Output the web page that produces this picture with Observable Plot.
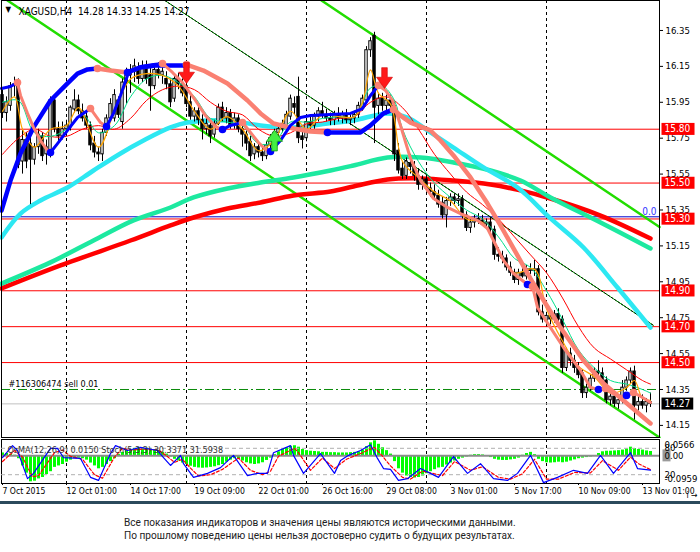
<!DOCTYPE html>
<html><head><meta charset="utf-8">
<script src="https://cdn.jsdelivr.net/npm/d3@7"></script>
<script src="https://cdn.jsdelivr.net/npm/@observablehq/plot@0.6"></script>
<style>
body{margin:0;background:#fff;}
#wrap{position:relative;width:700px;height:552px;overflow:hidden;background:#fff;}
.layer{position:absolute;left:0;}
#band{position:absolute;left:0;top:501px;width:700px;height:3px;background:#2b4a5c;}
#caption{position:absolute;left:124px;top:516px;font:10.1px Roboto,"Open Sans",sans-serif;color:#222;line-height:13px;white-space:nowrap;}
</style></head>
<body><div id="wrap"></div>
<script>
// ---------- DATA ----------
const symbol = "XAGUSD,H4";
// H4 candles, [open, high, low, close], bar index = position
const ohlc = [
[15.99,16.02,15.86,15.89],[15.89,15.98,15.84,15.95],[15.93,16.06,15.90,16.04],[16.04,16.09,15.98,16.05],[16.06,16.08,15.58,15.60],
[15.62,15.80,15.55,15.74],[15.74,15.78,15.58,15.62],[15.72,15.76,15.38,15.63],[15.63,15.72,15.60,15.70],[15.70,15.80,15.66,15.77],
[15.76,15.78,15.62,15.65],[15.66,15.74,15.60,15.70],[15.67,15.98,15.64,15.96],[15.96,15.99,15.78,15.80],[15.80,15.84,15.72,15.76],
[15.76,15.84,15.74,15.80],[15.80,15.85,15.76,15.82],[15.81,15.93,15.79,15.92],[15.91,16.02,15.89,15.96],[15.96,15.99,15.88,15.90],
[15.90,15.94,15.84,15.86],[15.87,15.90,15.80,15.82],[15.82,15.84,15.68,15.71],[15.72,15.76,15.64,15.67],[15.67,15.70,15.62,15.66],
[15.66,15.80,15.62,15.78],[15.78,15.88,15.76,15.86],[15.86,15.97,15.84,15.94],[15.86,16.02,15.84,15.99],[15.96,15.98,15.86,15.88],
[15.84,16.08,15.80,16.06],[16.06,16.14,15.94,16.10],[16.10,16.16,16.00,16.13],[16.12,16.19,16.06,16.15],[16.14,16.17,16.05,16.08],
[16.08,16.18,16.06,16.15],[16.15,16.18,16.05,16.08],[16.10,16.14,15.90,16.04],[16.04,16.16,16.02,16.13],[16.13,16.17,16.08,16.10],
[16.10,16.15,16.05,16.12],[16.08,16.12,16.02,16.05],[16.05,16.08,15.92,15.95],[15.97,16.10,15.95,16.08],[16.08,16.11,16.02,16.05],
[16.05,16.08,15.98,16.00],[16.04,16.06,15.92,15.94],[15.95,15.99,15.85,15.87],[15.87,15.92,15.84,15.90],[15.90,15.93,15.82,15.85],
[15.85,15.88,15.74,15.80],[15.80,15.86,15.77,15.83],[15.82,15.85,15.72,15.76],[15.77,15.85,15.75,15.83],[15.83,15.94,15.82,15.92],
[15.92,15.95,15.84,15.86],[15.86,15.92,15.83,15.89],[15.89,15.91,15.80,15.82],[15.82,15.89,15.80,15.86],[15.86,15.88,15.78,15.80],
[15.80,15.83,15.70,15.77],[15.77,15.79,15.68,15.72],[15.73,15.76,15.62,15.65],[15.66,15.72,15.63,15.70],[15.70,15.72,15.64,15.67],
[15.67,15.70,15.62,15.65],[15.65,15.73,15.63,15.71],[15.71,15.77,15.69,15.75],[15.75,15.80,15.70,15.78],[15.78,15.82,15.74,15.80],
[15.80,15.85,15.78,15.83],[15.81,15.90,15.79,15.88],[15.87,15.99,15.85,15.97],[15.94,15.98,15.88,15.92],[15.98,16.09,15.72,15.75],
[15.76,15.80,15.69,15.74],[15.75,15.86,15.73,15.84],[15.84,15.88,15.80,15.82],[15.82,15.89,15.80,15.87],[15.87,15.92,15.84,15.90],
[15.90,15.95,15.86,15.88],[15.88,15.91,15.84,15.86],[15.86,15.89,15.82,15.85],[15.85,15.90,15.82,15.88],[15.88,15.92,15.84,15.86],
[15.86,15.90,15.83,15.88],[15.88,15.91,15.83,15.85],[15.85,15.88,15.82,15.86],[15.86,15.90,15.83,15.88],[15.88,15.95,15.86,15.93],
[15.92,15.99,15.90,15.97],[15.96,16.26,15.94,16.24],[16.24,16.31,16.20,16.29],[16.32,16.34,15.72,15.92],[15.93,16.00,15.88,15.97],
[15.97,16.00,15.90,15.93],[15.93,15.99,15.88,15.96],[15.96,15.99,15.90,15.93],[15.93,15.95,15.62,15.66],[15.68,15.72,15.55,15.57],
[15.58,15.62,15.52,15.54],[15.54,15.64,15.52,15.62],[15.61,15.66,15.55,15.59],[15.59,15.62,15.51,15.54],[15.54,15.58,15.46,15.49],
[15.49,15.54,15.46,15.52],[15.52,15.54,15.45,15.47],[15.47,15.50,15.42,15.45],[15.45,15.49,15.40,15.43],[15.43,15.46,15.36,15.38],
[15.39,15.42,15.30,15.32],[15.32,15.42,15.25,15.40],[15.40,15.44,15.37,15.42],[15.42,15.44,15.38,15.40],[15.40,15.44,15.37,15.41],
[15.41,15.43,15.30,15.32],[15.32,15.34,15.23,15.25],[15.25,15.30,15.22,15.28],[15.28,15.32,15.25,15.30],[15.30,15.33,15.27,15.29],
[15.29,15.32,15.26,15.27],[15.27,15.30,15.24,15.28],[15.28,15.31,15.22,15.24],[15.24,15.26,15.07,15.10],[15.10,15.14,15.06,15.09],
[15.09,15.12,15.05,15.08],[15.08,15.10,15.01,15.03],[15.03,15.06,14.98,15.00],[15.00,15.02,14.94,14.96],[14.96,15.02,14.93,15.00],
[15.00,15.04,14.97,14.98],[14.98,15.04,14.96,15.02],[15.02,15.05,14.99,15.01],[15.01,15.07,14.98,15.02],[15.02,15.04,14.76,14.78],
[14.78,14.82,14.72,14.74],[14.73,14.78,14.70,14.76],[14.76,14.80,14.71,14.74],[14.74,14.79,14.72,14.77],[14.77,14.80,14.72,14.74],
[14.74,14.76,14.44,14.47],[14.47,14.58,14.45,14.56],[14.55,14.58,14.48,14.51],[14.51,14.54,14.44,14.47],[14.47,14.50,14.41,14.43],
[14.44,14.46,14.30,14.33],[14.33,14.38,14.30,14.36],[14.36,14.43,14.34,14.41],[14.41,14.47,14.39,14.45],[14.45,14.51,14.42,14.44],
[14.44,14.47,14.38,14.40],[14.40,14.42,14.27,14.29],[14.29,14.33,14.26,14.31],[14.31,14.33,14.25,14.27],[14.27,14.31,14.24,14.29],
[14.29,14.40,14.27,14.36],[14.36,14.42,14.34,14.40],[14.40,14.47,14.38,14.45],[14.45,14.48,14.18,14.26],[14.26,14.31,14.23,14.28],
[14.28,14.32,14.24,14.26],[14.26,14.30,14.22,14.28],[14.28,14.33,14.25,14.27]
];

// moving averages: [bar, price]
const maFastOrange = [[0,15.90],[3,15.98],[5,15.80],[8,15.70],[12,15.80],[16,15.82],[19,15.92],[24,15.70],[28,15.90],[32,16.08],[36,16.11],[40,16.10],[44,16.04],[48,15.90],[52,15.80],[56,15.87],[60,15.80],[64,15.68],[68,15.74],[72,15.90],[76,15.80],[80,15.88],[84,15.87],[88,15.87],[90,15.95],[92,16.13],[94,16.00],[97,15.94],[100,15.62],[104,15.53],[108,15.45],[112,15.40],[116,15.30],[120,15.28],[124,15.12],[128,15.00],[133,15.02],[136,14.80],[140,14.62],[144,14.48],[148,14.42],[152,14.33],[156,14.36],[158,14.40],[160,14.30],[162,14.29]];
const maMidGreen = [[0,15.95],[4,15.96],[8,15.78],[12,15.76],[16,15.80],[20,15.88],[24,15.78],[28,15.82],[32,15.98],[36,16.08],[40,16.10],[44,16.06],[48,15.98],[52,15.86],[56,15.84],[60,15.82],[64,15.72],[68,15.73],[72,15.84],[76,15.84],[80,15.86],[84,15.87],[88,15.87],[92,16.03],[95,16.04],[98,15.96],[100,15.80],[104,15.62],[108,15.50],[112,15.42],[116,15.35],[120,15.30],[124,15.20],[128,15.08],[132,15.03],[136,14.90],[140,14.74],[144,14.57],[148,14.47],[152,14.40],[156,14.38],[160,14.35],[162,14.33]];
const maSlowRedThin = [[0,15.66],[4,15.75],[8,15.80],[12,15.76],[16,15.76],[20,15.80],[24,15.82],[28,15.80],[32,15.86],[36,15.96],[40,16.02],[44,16.04],[48,16.02],[52,15.95],[56,15.90],[60,15.88],[64,15.80],[68,15.76],[72,15.78],[76,15.83],[80,15.84],[84,15.86],[88,15.87],[92,15.95],[96,15.98],[100,15.92],[104,15.80],[108,15.66],[112,15.55],[116,15.45],[120,15.38],[124,15.30],[128,15.20],[132,15.10],[136,15.00],[140,14.86],[144,14.70],[148,14.58],[152,14.52],[156,14.46],[160,14.40],[162,14.38]];
const maCyan = [[-0.25,15.197],[4.5,15.33],[9.5,15.403],[16.25,15.475],[22.75,15.57],[29.5,15.665],[35.25,15.737],[42,15.81],[46.25,15.837],[56.25,15.849],[64.5,15.821],[72.75,15.81],[81.25,15.832],[87.75,15.849],[96.25,15.888],[101.25,15.865],[106.25,15.793],[112.75,15.698],[120.25,15.587],[128.75,15.475],[137,15.303],[145.25,15.141],[153.75,14.918],[162,14.695]];
const maTeal = [[-0.25,14.94],[12,15.058],[22.75,15.18],[32.75,15.292],[42,15.364],[47.75,15.42],[56.25,15.47],[64.5,15.503],[72.75,15.531],[82,15.57],[87.75,15.598],[96.25,15.642],[104.5,15.642],[112.75,15.615],[122,15.57],[129.5,15.514],[137,15.42],[149.5,15.28],[162,15.136]];
const maRedThick = [[-0.25,14.913],[14.5,15.041],[32,15.18],[42,15.264],[47.75,15.308],[56.25,15.358],[64.5,15.392],[72.75,15.431],[82,15.453],[87.75,15.481],[96.25,15.52],[104.5,15.526],[112.75,15.514],[122,15.492],[129.5,15.459],[137,15.414],[149.5,15.319],[162,15.191]];

// trend-following stop lines: [direction, [[bar, price], ...]]
const trendSlow = [
 ["up",   [[-0.25,15.347],[2,15.514],[4.5,15.665],[7.75,15.81],[12,15.96],[16.25,16.055],[18.75,16.11],[21.25,16.133],[23.75,16.138]]],
 ["down", [[23.75,16.138],[27,16.127],[31.25,16.116]]],
 ["up",   [[31.25,16.116],[34.5,16.144],[38.25,16.155],[42,16.155],[46,16.155]]],
 ["down", [[46,16.16],[50.25,16.127],[56.25,16.055],[61.25,15.96],[64.5,15.888],[67.75,15.832],[72.75,15.804],[77,15.787],[81.25,15.782]]],
 ["up",   [[81.25,15.782],[84.5,15.782],[89.5,15.782],[92,15.821],[95.25,15.888],[97.75,15.91]]],
 ["down", [[97.75,15.91],[99.5,15.876],[102,15.837],[107,15.793],[109.5,15.737],[112.75,15.654],[117,15.531],[121.25,15.386],[124.5,15.264],[127.75,15.136],[132,14.968],[135.75,14.829],[139.5,14.695],[145.25,14.512],[150.25,14.383],[155.25,14.289],[162,14.161]]]
];
const trendFast = [
 ["up",   [[-0.25,16.027],[2,16.038],[3.75,16.06]]],
 ["down", [[3.75,16.06],[4.5,15.988],[6.25,15.888],[7.75,15.81],[9.5,15.737],[11.25,15.681],[12,15.67]]],
 ["up",   [[12,15.67],[13.75,15.72],[16.25,15.793],[18.75,15.865],[22,15.915]]],
 ["down", [[22,15.915],[23.25,15.876],[24.5,15.837],[26,15.815]]],
 ["up",   [[26,15.815],[27.75,15.888],[29.5,15.988],[31.25,16.099],[32,16.127],[34.5,16.149],[37.75,16.161],[40,16.166]]],
 ["down", [[40,16.166],[42.5,16.116],[45,16.06],[48.25,15.96],[50.75,15.876],[53.25,15.815],[55,15.798]]],
 ["up",   [[55,15.798],[57,15.821],[60,15.837]]],
 ["down", [[60,15.837],[62,15.782],[64,15.726],[65.75,15.687],[67,15.676]]],
 ["up",   [[67,15.676],[69.5,15.737],[72,15.821],[74.5,15.865],[77,15.876],[82,15.882],[87,15.888],[90,15.915],[92,15.988],[94,16.044]]],
 ["down", [[94,16.044],[95.75,16.016],[97.5,15.96],[99.5,15.821],[102,15.637],[104.5,15.514],[107.75,15.414],[111.25,15.364],[114.5,15.33],[118.75,15.292],[121.25,15.247],[122.75,15.18],[125.25,15.069],[127.75,14.996],[131.25,14.935]]],
 ["up",   [[131.25,14.935],[132.5,14.924]]],
 ["down", [[132.5,14.924],[133.75,14.807],[137,14.695],[140.25,14.584],[144.5,14.456],[147,14.361],[149,14.35]]],
 ["up",   [[149,14.35],[150.75,14.356]]],
 ["down", [[150.75,14.356],[152.5,14.328],[154.5,14.311],[156,14.317]]],
 ["up",   [[156,14.317],[157.75,14.333]]],
 ["down", [[157.75,14.333],[160,14.306],[162,14.278]]]
];

// channel and trend lines
const channelLower = [[1.25,16.517],[164.25,14.083]];
const channelUpper = [[79.75,16.517],[164.25,15.255]];
const trendThin = [[40.6,16.517],[162.75,14.707]];

// horizontal levels
const redLevels = [15.80, 15.50, 15.30, 14.90, 14.70, 14.50];
const fiboZero = 15.312;
const orderLevel = 14.35;
const orderText = "#116306474 sell 0.01";

// signal arrows [bar, price]
const sellArrows = [[46,16.113],[95.5,16.085]];
const buyArrows = [[68,15.737]];

// axes
const priceTicks = [16.35,16.15,15.95,15.75,15.55,15.35,15.15,14.95,14.75,14.55,14.35,14.15];
const gridBars = [16,46,76,106,136];
const dateTicks = [0,16,32,48,64,80,96,112,128,144,160];
const dateLabels = ["7 Oct 2015","12 Oct 01:00","14 Oct 17:00","19 Oct 09:00","22 Oct 01:00","26 Oct 16:00","29 Oct 08:00","3 Nov 01:00","5 Nov 17:00","10 Nov 09:00","13 Nov 01:00"];

// oscillators
const osma = [0.010,0.008,0.005,0.002,-0.010,-0.035,-0.060,-0.090,-0.088,-0.080,
 -0.075,-0.065,-0.055,-0.040,-0.035,-0.030,-0.022,-0.015,-0.010,-0.008,
 -0.010,-0.015,-0.025,-0.035,-0.045,-0.040,-0.030,-0.020,-0.010,0.005,
 0.012,0.018,0.022,0.026,0.028,0.028,0.026,0.024,0.022,0.018,
 0.012,0.006,-0.004,-0.012,-0.018,-0.025,-0.030,-0.036,-0.040,-0.042,
 -0.043,-0.042,-0.040,-0.038,-0.034,-0.030,-0.022,-0.015,-0.010,-0.012,
 -0.018,-0.024,-0.028,-0.030,-0.028,-0.024,-0.016,-0.008,0.004,0.014,
 0.022,0.028,0.033,0.035,0.030,0.022,0.018,0.016,0.015,0.014,
 0.012,0.012,0.011,0.011,0.010,0.010,0.010,0.011,0.012,0.014,
 0.020,0.032,0.045,0.052,0.040,0.028,0.018,0.006,-0.020,-0.045,
 -0.060,-0.070,-0.075,-0.077,-0.075,-0.070,-0.062,-0.055,-0.048,-0.042,
 -0.040,-0.032,-0.025,-0.018,-0.012,-0.008,-0.004,0.002,0.004,0.004,
 0.003,-0.002,-0.006,-0.012,-0.015,-0.016,-0.016,-0.014,-0.012,-0.008,
 0.002,0.008,0.012,0.004,-0.012,-0.020,-0.024,-0.025,-0.024,-0.022,
 -0.024,-0.022,-0.018,-0.014,-0.010,-0.008,-0.006,-0.004,-0.002,0.008,
 0.014,0.016,0.016,0.017,0.018,0.020,0.024,0.030,0.025,0.022,
 0.020,0.017,0.015];
const osmaRange = [-0.0959, 0.0566];
const stochMain = [[0,59],[2.5,86],[3.75,75],[6.25,11],[7.75,23],[12,80],[13.75,80],[15.25,59],[19.5,57],[22,14],[24,7],[27,68],[28.25,86],[31.25,75],[34.5,82],[38.75,75],[40.25,59],[42,41],[44.5,64],[45.25,45],[47.75,14],[51.25,23],[54.5,36],[57.75,64],[61.25,18],[63.75,23],[66.25,23],[67.75,70],[72,86],[72.75,64],[75.25,23],[79.5,68],[83,23],[84.5,52],[86.5,64],[89.5,75],[92,88],[93.75,57],[95.25,34],[97,32],[99,7],[101.25,11],[104.5,34],[107,23],[109,14],[112.75,61],[116.25,23],[119.5,45],[122.75,11],[126.25,7],[128.75,23],[132,64],[135.25,2],[138.75,14],[142.75,30],[146.25,23],[149.5,64],[152.75,23],[157,70],[158.75,34],[162,30.34]];
const stochSignal = [[0,50],[3,75],[5,60],[7.5,15],[9,18],[13,70],[15,76],[17,62],[20,55],[23,20],[25,12],[28,60],[30,80],[32,76],[35,78],[39,76],[41,63],[43,48],[45,55],[47,35],[49,17],[52,20],[55,32],[59,58],[62,30],[65,20],[67,28],[69,62],[73,80],[74,70],[77,30],[80,58],[83,34],[86,55],[90,70],[93,82],[95,62],[97,40],[100,14],[102,10],[105,28],[108,22],[110,18],[113,50],[117,30],[120,38],[124,14],[127,10],[130,22],[133,55],[136,10],[139,10],[143,25],[147,24],[150,52],[154,30],[157,60],[159,45],[162,31.59]];
const stochLevels = [80, 20];
const osmaLabel = "OsMA(12,26,9) 0.0150 Stoch(5,3,3) 30.3371 31.5938";

// ---------- BUILD ----------
const FONT = '"DejaVu Sans Condensed","Liberation Sans",sans-serif';
const candles = ohlc.map(([o,h,l,c], i) => ({i,o,h,l,c}));
const last = candles[candles.length - 1];
const xDomain = [-0.25, 164.25];
const C = {up:"#0000ff", down:"#fa8072"};

function segRows(segs){ return segs.flatMap(([dir, pts], k) => pts.map(([i,p]) => ({k, dir, i, p}))); }
function segStarts(segs){ return segs.map(([dir, pts]) => ({dir, i: pts[0][0], p: pts[0][1]})).filter(d => d.i > 0); }
const slowRows = segRows(trendSlow), fastRows = segRows(trendFast);
const starts = [...segStarts(trendSlow), ...segStarts(trendFast)];

const downArrowSym = {draw(ctx, size){ const r = Math.sqrt(size/Math.PI);
  ctx.moveTo(-0.35*r,-1.3*r); ctx.lineTo(0.35*r,-1.3*r); ctx.lineTo(0.35*r,-0.1*r); ctx.lineTo(r,-0.1*r);
  ctx.lineTo(0,1.3*r); ctx.lineTo(-r,-0.1*r); ctx.lineTo(-0.35*r,-0.1*r); ctx.closePath(); }};
const upArrowSym = {draw(ctx, size){ const r = Math.sqrt(size/Math.PI);
  ctx.moveTo(-0.35*r,1.3*r); ctx.lineTo(0.35*r,1.3*r); ctx.lineTo(0.35*r,0.1*r); ctx.lineTo(r,0.1*r);
  ctx.lineTo(0,-1.3*r); ctx.lineTo(-r,0.1*r); ctx.lineTo(-0.35*r,0.1*r); ctx.closePath(); }};

const P = d => d[0], Q = d => d[1];

const main = Plot.plot({
  width: 700, height: 438,
  marginLeft: 1, marginRight: 41, marginTop: 0, marginBottom: 1,
  x: {domain: xDomain, axis: null},
  y: {domain: [14.0826, 16.517], axis: null},
  style: {fontFamily: FONT, fontSize: "10px", background: "white", overflow: "visible", color: "black"},
  marks: [
    Plot.ruleX(gridBars, {stroke: "black", strokeDasharray: "3,3"}),
    Plot.ruleY(redLevels, {stroke: "red"}),
    Plot.ruleY([fiboZero], {stroke: "#0000cc"}),
    Plot.ruleY([last.c], {stroke: "#c0c0c0"}),
    Plot.ruleY([orderLevel], {stroke: "#0a8a0a", strokeDasharray: "9,3,2,3"}),
    Plot.line(channelLower, {x: P, y: Q, stroke: "#22dd00", strokeWidth: 2.5}),
    Plot.line(channelUpper, {x: P, y: Q, stroke: "#22dd00", strokeWidth: 2.5}),
    Plot.line(trendThin, {x: P, y: Q, stroke: "#00cc00", strokeWidth: 1}),
    Plot.line(trendThin, {x: P, y: Q, stroke: "black", strokeWidth: 1, strokeDasharray: "2,2"}),
    Plot.line(maRedThick, {x: P, y: Q, stroke: "#ff0000", strokeWidth: 4.5, curve: "catmull-rom"}),
    Plot.line(maTeal, {x: P, y: Q, stroke: "#1de9a0", strokeWidth: 4.5, curve: "catmull-rom"}),
    Plot.line(maCyan, {x: P, y: Q, stroke: "#2de8f2", strokeWidth: 4.5, curve: "catmull-rom"}),
    Plot.ruleX(candles, {x: "i", y1: "l", y2: "h", stroke: "black"}),
    Plot.rect(candles.filter(d => d.c >= d.o), {x1: d => d.i - 0.3, x2: d => d.i + 0.3, y1: "o", y2: "c", fill: "white", stroke: "black", inset: 0}),
    Plot.rect(candles.filter(d => d.c < d.o), {x1: d => d.i - 0.3, x2: d => d.i + 0.3, y1: "c", y2: "o", fill: "black", stroke: "black", inset: 0}),
    Plot.line(maSlowRedThin, {x: P, y: Q, stroke: "#ff0000", strokeWidth: 1, curve: "catmull-rom"}),
    Plot.line(maMidGreen, {x: P, y: Q, stroke: "#00e08a", strokeWidth: 1, curve: "catmull-rom"}),
    Plot.line(maFastOrange, {x: P, y: Q, stroke: "#ffa500", strokeWidth: 1.2, curve: "catmull-rom"}),
    Plot.line(slowRows.filter(d => d.dir === "up"), {x: "i", y: "p", z: "k", stroke: C.up, strokeWidth: 4.5}),
    Plot.line(slowRows.filter(d => d.dir === "down"), {x: "i", y: "p", z: "k", stroke: C.down, strokeWidth: 4.5}),
    Plot.line(fastRows.filter(d => d.dir === "up"), {x: "i", y: "p", z: "k", stroke: C.up, strokeWidth: 3}),
    Plot.line(fastRows.filter(d => d.dir === "down"), {x: "i", y: "p", z: "k", stroke: C.down, strokeWidth: 3}),
    Plot.dot(starts.filter(d => d.dir === "up"), {x: "i", y: "p", r: 3.8, fill: C.up}),
    Plot.dot(starts.filter(d => d.dir === "down"), {x: "i", y: "p", r: 3.8, fill: C.down}),
    Plot.dot(sellArrows, {x: P, y: Q, r: 8, symbol: downArrowSym, fill: "#ff1a1a", stroke: "#d00000", strokeWidth: 0.6}),
    Plot.dot(buyArrows, {x: P, y: Q, r: 8, symbol: upArrowSym, fill: "#44ee44", stroke: "#119911", strokeWidth: 0.8}),
    Plot.frame({stroke: "black"}),
    Plot.axisY({anchor: "right", ticks: priceTicks, tickSize: 3, tickPadding: 3, tickFormat: d => d.toFixed(2), fontSize: 9.5}),
    Plot.text(["\u25BC"], {frameAnchor: "top-left", dx: 4, dy: 6, fontSize: 8, fill: "black"}),
    Plot.text([`${symbol}\u00A0\u00A0${[last.o,last.h,last.l,last.c].map(v => v.toFixed(2)).join(" ")}`], {frameAnchor: "top-left", dx: 17, dy: 7, fontSize: 10, textAnchor: "start", fill: "black"}),
    Plot.text([orderText], {x: 1.5, y: orderLevel, dy: -5, textAnchor: "start", fontSize: 9, fill: "black"}),
    Plot.text(["0.0"], {x: 163.5, y: fiboZero, dy: -5, textAnchor: "end", fontSize: 10, fill: "#3333ff"}),
    Plot.text(redLevels, {y: d => d, frameAnchor: "right", dx: 5, textAnchor: "start", text: d => d.toFixed(2), fill: "white", fontSize: 10, ariaDescription: "box-red"}),
    Plot.text([last.c], {y: d => d, frameAnchor: "right", dx: 5, textAnchor: "start", text: d => d.toFixed(2), fill: "white", fontSize: 10, ariaDescription: "box-black"})
  ]
});

const histo = Plot.plot({
  width: 700, height: 62,
  marginLeft: 1, marginRight: 41, marginTop: 1, marginBottom: 17,
  x: {domain: xDomain, axis: null},
  y: {domain: osmaRange, axis: null},
  style: {fontFamily: FONT, fontSize: "9.5px", background: "white", overflow: "visible", color: "black"},
  marks: [
    Plot.ruleX(gridBars, {stroke: "black", strokeDasharray: "3,3"}),
    Plot.ruleX(osma.map((v, i) => ({i, v})), {x: "i", y1: 0, y2: "v", stroke: "#00ff00", strokeWidth: 3}),
    Plot.ruleY([0], {stroke: "#8c8c8c", strokeWidth: 2}),
    Plot.frame({stroke: "black"}),
    Plot.text([osmaRange[1]], {y: d => d, frameAnchor: "right", dx: 5, dy: 5, textAnchor: "start", text: d => d.toFixed(4), fill: "black"}),
    Plot.text([0], {y: d => d, frameAnchor: "right", dx: 5, textAnchor: "start", text: () => "0.00", fill: "black", ariaDescription: "box-gray"}),
    Plot.text([osmaRange[0]], {y: d => d, frameAnchor: "right", dx: 5, dy: -5, textAnchor: "start", text: d => d.toFixed(4), fill: "black"}),
    Plot.axisX({anchor: "bottom", ticks: dateTicks, tickFormat: d => dateLabels[dateTicks.indexOf(d)], textAnchor: "start", tickSize: 2, tickPadding: 2, fontSize: 8.6})
  ]
});

const stoch = Plot.plot({
  width: 700, height: 62,
  marginLeft: 1, marginRight: 41, marginTop: 1, marginBottom: 17,
  x: {domain: xDomain, axis: null},
  y: {domain: [0, 100], axis: null},
  style: {fontFamily: FONT, fontSize: "9.5px", background: "transparent", overflow: "visible", color: "black"},
  marks: [
    Plot.ruleY(stochLevels, {stroke: "#b0b0b0", strokeDasharray: "4,3"}),
    Plot.line(stochSignal, {x: P, y: Q, stroke: "#ff0000", strokeWidth: 1.2, strokeDasharray: "3,2"}),
    Plot.line(stochMain, {x: P, y: Q, stroke: "#0000ff", strokeWidth: 1.2}),
    Plot.text(stochLevels, {y: d => d, frameAnchor: "right", dx: 5, textAnchor: "start", text: d => String(d), fill: "black"}),
    Plot.text([osmaLabel], {frameAnchor: "top-left", dx: 6, dy: 7, textAnchor: "start", fill: "#333", fontSize: 9})
  ]
});

const wrap = document.getElementById("wrap");
[[main,0],[histo,438],[stoch,438]].forEach(([el, top]) => { el.classList.add("layer"); el.style.top = top + "px"; wrap.appendChild(el); });
const band = document.createElement("div"); band.id = "band"; wrap.appendChild(band);
const cap = document.createElement("div"); cap.id = "caption";
cap.innerHTML = "Все показания индикаторов и значения цены являются историческими данными.<br>По прошлому поведению цены нельзя достоверно судить о будущих результатах.";
wrap.appendChild(cap);

function boxes(svg, label, fill, padL, padR, fixedW) {
  svg.querySelectorAll(`g[aria-description="${label}"] text`).forEach(t => {
    const b = t.getBBox();
    const r = document.createElementNS("http://www.w3.org/2000/svg", "rect");
    r.setAttribute("x", b.x - padL); r.setAttribute("y", b.y - 0.5);
    r.setAttribute("width", fixedW || (b.width + padL + padR)); r.setAttribute("height", b.height + 1);
    r.setAttribute("fill", fill);
    if (t.getAttribute("transform")) r.setAttribute("transform", t.getAttribute("transform"));
    t.parentNode.insertBefore(r, t);
  });
}
boxes(main, "box-red", "#ff0000", 3, 4);
boxes(main, "box-black", "#000000", 3, 3);
boxes(histo, "box-gray", "#9a9a9a", 2, 0, 8);
</script></body></html>
